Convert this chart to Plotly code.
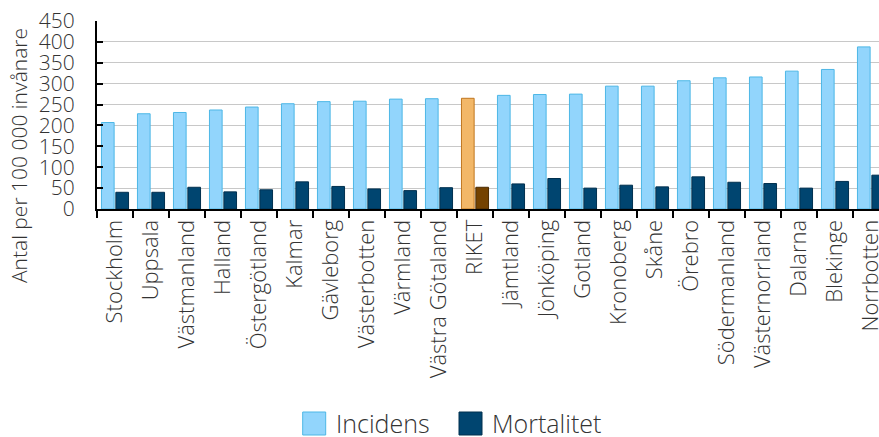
import plotly.graph_objects as go

categories = ["Stockholm", "Uppsala", "Västmanland", "Halland", "Östergötland", "Kalmar",
              "Gävleborg", "Västerbotten", "Värmland", "Västra Götaland", "RIKET", "Jämtland",
              "Jönköping", "Gotland", "Kronoberg", "Skåne", "Örebro", "Södermanland",
              "Västernorrland", "Dalarna", "Blekinge", "Norrbotten"]
incidens = [207, 228, 231, 237, 244, 252, 257, 258, 263, 264, 265, 272, 274, 275,
            294, 294, 307, 314, 316, 330, 334, 388]
mortalitet = [40, 40, 52, 41, 46, 65, 54, 48, 44, 51, 52, 60, 73, 50, 57, 53, 77, 64,
              61, 50, 66, 81]
y_ticks = [0, 50, 100, 150, 200, 250, 300, 350, 400, 450]

INC_FILL, INC_LINE = "#92D5FC", "#4DB7E6"
MOR_FILL, MOR_LINE = "#004570", "#00304F"
RIK_INC_FILL, RIK_INC_LINE = "#F2B768", "#C0761E"
RIK_MOR_FILL, RIK_MOR_LINE = "#744200", "#4A2A00"

inc_fill = [RIK_INC_FILL if c == "RIKET" else INC_FILL for c in categories]
inc_line = [RIK_INC_LINE if c == "RIKET" else INC_LINE for c in categories]
mor_fill = [RIK_MOR_FILL if c == "RIKET" else MOR_FILL for c in categories]
mor_line = [RIK_MOR_LINE if c == "RIKET" else MOR_LINE for c in categories]

W, H = 879, 437
ML, MR, MT, MB = 97, 0, 21, 228
PW, PH = W - ML - MR, H - MT - MB

def px_x(x):
    return (x - ML) / PW

def px_y(y):
    return (H - MB - y) / PH

FONT = "Open Sans"
TXT = "#333333"
WT = 300

fig = go.Figure()
fig.add_trace(go.Bar(x=categories, y=incidens, name="Incidens",
                     marker=dict(color=inc_fill, line=dict(color=inc_line, width=1))))
fig.add_trace(go.Bar(x=categories, y=mortalitet, name="Mortalitet",
                     marker=dict(color=mor_fill, line=dict(color=mor_line, width=1))))

cat_w = 36.0
n_visible = PW / cat_w

fig.update_layout(
    width=W, height=H,
    margin=dict(l=ML, r=MR, t=MT, b=MB, pad=0, autoexpand=False),
    paper_bgcolor="white", plot_bgcolor="white",
    barmode="group", bargap=0.2, bargroupgap=0.12,
    showlegend=False,
    font=dict(family=FONT, color=TXT, weight=WT),
)
fig.update_xaxes(
    type="category", range=[-0.5, -0.5 + n_visible], automargin=False,
    tickson="boundaries", ticks="outside", ticklen=7, tickwidth=2, tickcolor="black",
    showline=True, linecolor="black", linewidth=2,
    tickangle=-90, tickfont=dict(family=FONT, size=22, color=TXT, weight=WT),
    showgrid=False,
)
fig.update_yaxes(
    range=[0, 450], tickvals=y_ticks, ticktext=[str(v) for v in y_ticks], automargin=False,
    ticks="inside", ticklen=6, tickwidth=2, tickcolor="black",
    showline=True, linecolor="black", linewidth=2,
    showgrid=True, gridcolor="#c8c8c8", gridwidth=1.2,
    tickfont=dict(family=FONT, size=21, color=TXT, weight=WT),
    ticklabelstandoff=16, zeroline=False,
)

fig.add_annotation(text="Antal per 100 000 invånare", xref="paper", yref="paper",
                   x=px_x(19), y=px_y(156), textangle=-90, showarrow=False,
                   xanchor="center", yanchor="middle",
                   font=dict(family=FONT, size=21, color=TXT, weight=WT))

legend_items = [("Incidens", INC_FILL, INC_LINE, 302.7), ("Mortalitet", MOR_FILL, MOR_LINE, 459)]
for name, fill, line, x0 in legend_items:
    fig.add_shape(type="rect", xref="paper", yref="paper",
                  x0=px_x(x0), x1=px_x(x0 + 23), y0=px_y(412), y1=px_y(435),
                  fillcolor=fill, line=dict(color=line, width=1))
    fig.add_annotation(text=name, xref="paper", yref="paper",
                       x=px_x(x0 + 31), y=px_y(422.5), showarrow=False,
                       xanchor="left", yanchor="middle",
                       font=dict(family=FONT, size=25, color=TXT, weight=WT))

fig.write_html("out.html", config={"displayModeBar": False},
               post_script="document.body.style.margin='0';document.body.style.overflow='hidden';")
